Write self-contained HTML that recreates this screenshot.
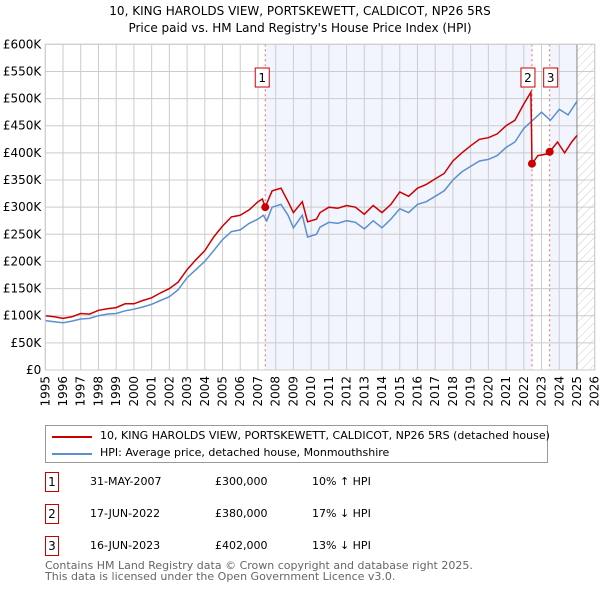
<!DOCTYPE html>
<html><head><meta charset="utf-8"><style>
body{margin:0;background:#fff;font-family:"DejaVu Sans","Liberation Sans",sans-serif;}
#wrap{position:relative;width:600px;height:590px;overflow:hidden}
.t{position:absolute;font-size:12px;color:#000;white-space:nowrap}
.box{position:absolute;border:1px solid #c00;width:12px;height:18px;font-size:12px;text-align:center;line-height:18px}
svg text{font-family:"DejaVu Sans","Liberation Sans",sans-serif}
</style></head><body>
<div id="wrap">
<div class="t" style="left:0;width:600px;text-align:center;top:4px;font-size:12px">10, KING HAROLDS VIEW, PORTSKEWETT, CALDICOT, NP26 5RS</div>
<div class="t" style="left:0;width:600px;text-align:center;top:21px;font-size:12px">Price paid vs. HM Land Registry's House Price Index (HPI)</div>
<svg id="chart" width="600" height="420" style="position:absolute;left:0;top:0"></svg>
<div style="position:absolute;left:45px;top:425px;width:501px;height:36px;border:1px solid #999;"></div>
<div style="position:absolute;left:52px;top:436px;width:40px;height:2px;background:#c00"></div>
<div class="t" style="left:100px;top:429px;font-size:11px">10, KING HAROLDS VIEW, PORTSKEWETT, CALDICOT, NP26 5RS (detached house)</div>
<div style="position:absolute;left:52px;top:453px;width:40px;height:2px;background:#5b8fd0"></div>
<div class="t" style="left:100px;top:446px;font-size:11px">HPI: Average price, detached house, Monmouthshire</div>

<div class="box" style="left:45px;top:472px">1</div>
<div class="t" style="left:90px;top:475px;font-size:11px">31-MAY-2007</div>
<div class="t" style="left:215px;top:475px;font-size:11px">£300,000</div>
<div class="t" style="left:312px;top:475px;font-size:11px">10% ↑ HPI</div>
<div class="box" style="left:45px;top:504px">2</div>
<div class="t" style="left:90px;top:507px;font-size:11px">17-JUN-2022</div>
<div class="t" style="left:215px;top:507px;font-size:11px">£380,000</div>
<div class="t" style="left:312px;top:507px;font-size:11px">17% ↓ HPI</div>
<div class="box" style="left:45px;top:536px">3</div>
<div class="t" style="left:90px;top:539px;font-size:11px">16-JUN-2023</div>
<div class="t" style="left:215px;top:539px;font-size:11px">£402,000</div>
<div class="t" style="left:312px;top:539px;font-size:11px">13% ↓ HPI</div>
<div class="t" style="left:45px;top:560px;font-size:11px;color:#666;line-height:11px">Contains HM Land Registry data © Crown copyright and database right 2025.<br>This data is licensed under the Open Government Licence v3.0.</div>
</div>
<script>
const hpiT=[1995,1995.5,1996,1996.5,1997,1997.5,1998,1998.5,1999,1999.5,2000,2000.5,2001,2001.5,2002,2002.5,2003,2003.5,2004,2004.5,2005,2005.5,2006,2006.5,2007,2007.3,2007.5,2007.8,2008.3,2008.7,2009,2009.5,2009.8,2010.3,2010.5,2011,2011.5,2012,2012.5,2013,2013.5,2014,2014.5,2015,2015.5,2016,2016.5,2017,2017.5,2018,2018.5,2019,2019.5,2020,2020.5,2021,2021.5,2022,2022.5,2023,2023.5,2024,2024.5,2025];
const hpiV=[91,89,87,90,94,95,100,103,104,109,112,116,121,128,135,148,170,185,200,220,240,255,258,270,278,285,275,300,305,285,262,285,245,250,263,272,270,275,272,260,275,262,278,297,290,305,310,320,330,350,365,375,385,388,395,410,420,445,460,475,460,480,470,495];
const redT=[1995,1995.5,1996,1996.5,1997,1997.5,1998,1998.5,1999,1999.5,2000,2000.5,2001,2001.5,2002,2002.5,2003,2003.5,2004,2004.5,2005,2005.5,2006,2006.5,2007,2007.25,2007.41,2007.8,2008.3,2008.7,2009,2009.5,2009.8,2010.3,2010.5,2011,2011.5,2012,2012.5,2013,2013.5,2014,2014.5,2015,2015.5,2016,2016.5,2017,2017.5,2018,2018.5,2019,2019.5,2020,2020.5,2021,2021.5,2022,2022.4,2022.46,2022.8,2023.3,2023.46,2023.9,2024.3,2024.7,2025];
const redV=[100,98,95,98,104,103,110,113,115,122,122,128,133,142,150,162,185,203,220,245,265,282,285,295,310,315,300,330,335,310,290,310,273,278,290,300,298,303,300,287,303,290,305,328,320,335,342,352,362,385,400,413,425,428,435,450,460,490,512,380,395,398,402,420,400,420,432];
const saleT=[2007.41,2022.46,2023.46];
const saleV=[300,380,402];
const saleLabels=["1","2","3"];
const yTicks=[0,50,100,150,200,250,300,350,400,450,500,550,600];
const yTickLabels=["£0","£50K","£100K","£150K","£200K","£250K","£300K","£350K","£400K","£450K","£500K","£550K","£600K"];
const xYears=[1995,1996,1997,1998,1999,2000,2001,2002,2003,2004,2005,2006,2007,2008,2009,2010,2011,2012,2013,2014,2015,2016,2017,2018,2019,2020,2021,2022,2023,2024,2025,2026];

const L=45.3,R=594.7,T=44.3,B=370;
const X=t=>L+(t-1995)/(2026-1995)*(R-L);
const Y=v=>B-v/600*(B-T);
const svg=document.getElementById('chart');
const NS='http://www.w3.org/2000/svg';
function mk(tag,attrs,parent){const e=document.createElementNS(NS,tag);for(const k in attrs)e.setAttribute(k,attrs[k]);(parent||svg).appendChild(e);return e;}
let e;
e=mk('defs',{});
e.innerHTML='<pattern id="hatch" width="6" height="6" patternUnits="userSpaceOnUse" patternTransform="rotate(45)"><line x1="0" y1="0" x2="0" y2="6" stroke="#ccc" stroke-width="1"/></pattern>';
e=mk('rect',{x:X(saleT[0]),y:T,width:X(saleT[1])-X(saleT[0]),height:B-T,fill:'#f2f5fd'});


e=mk('rect',{x:X(saleT[2]),y:T,width:X(2025)-X(saleT[2]),height:B-T,fill:'#f2f5fd'});


e=mk('rect',{x:X(2025),y:T,width:R-X(2025),height:B-T,fill:'url(#hatch)'});


yTicks.forEach((v,i)=>{
  e=mk('line',{x1:L,x2:R,y1:Y(v),y2:Y(v),stroke:'#ccc','stroke-width':1});
  
  
  e=mk('text',{x:L-4,y:Y(v)+4,'text-anchor':'end','font-size':12,fill:'#000'});
  e.textContent=yTickLabels[i];
  
  
});
xYears.forEach(yr=>{
  e=mk('line',{x1:X(yr),x2:X(yr),y1:T,y2:B,stroke:'#ccc','stroke-width':1});
  
  
  e=mk('text',{x:X(yr)+4,y:B+6,'text-anchor':'end','font-size':12,fill:'#000',transform:`rotate(-90 ${X(yr)+4} ${B+6})`});
  e.textContent=yr;
  
  
});
e=mk('line',{x1:X(2025),x2:X(2025),y1:T,y2:B,stroke:'#888','stroke-width':1});


saleT.forEach((t,i)=>{
  e=mk('line',{x1:X(t),x2:X(t),y1:T,y2:B,stroke:'#e66','stroke-width':1,'stroke-dasharray':'2,3'});
  
  
});
function pathOf(ts,vs){return ts.map((t,i)=>(i?'L':'M')+X(t).toFixed(1)+','+Y(vs[i]).toFixed(1)).join('');}
e=mk('path',{d:pathOf(hpiT,hpiV),fill:'none',stroke:'#5b8fd0','stroke-width':1.5});


e=mk('path',{d:pathOf(redT,redV),fill:'none',stroke:'#c00','stroke-width':1.5});


saleT.forEach((t,i)=>{
  e=mk('circle',{cx:X(t),cy:Y(saleV[i]),r:4,fill:'#c00'});
  
  
  const g=mk('g',{});
  
  
  const cx=i==0?X(t)-3:(i==1?X(t)-4:X(t)+1);
  mk('rect',{x:cx-7,y:68,width:14,height:19,fill:'#fff',stroke:'#c00','stroke-width':1},g);
  const tx=mk('text',{x:cx,y:82,'text-anchor':'middle','font-size':12,fill:'#000'},g);
  tx.textContent=saleLabels[i];
});
e=mk('rect',{x:L,y:T,width:R-L,height:B-T,fill:'none',stroke:'#ccc','stroke-width':1});


</script>
</body></html>
